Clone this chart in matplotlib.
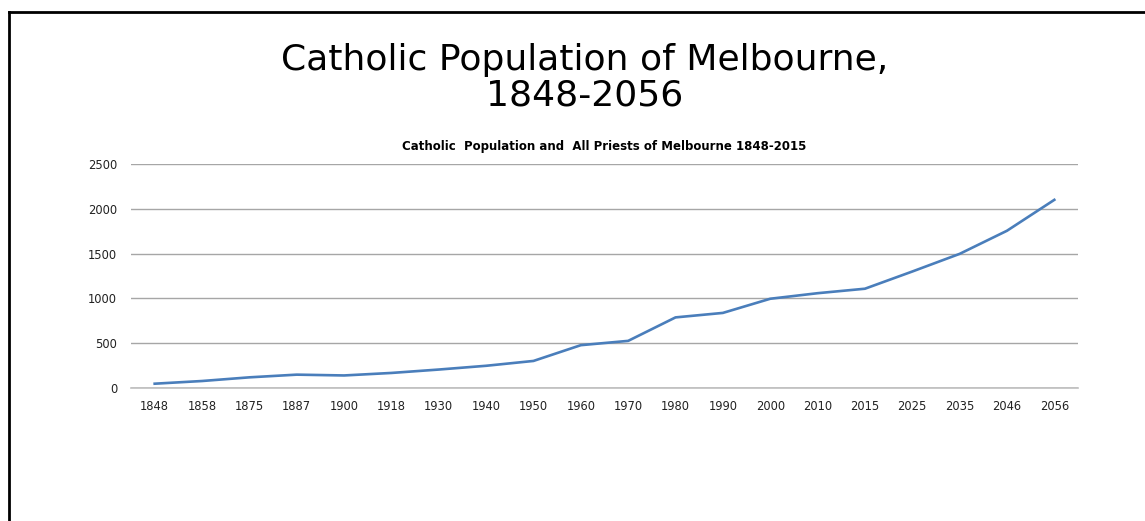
import matplotlib.pyplot as plt
from matplotlib.lines import Line2D

years = ['1848', '1858', '1875', '1887', '1900', '1918', '1930', '1940', '1950', '1960',
         '1970', '1980', '1990', '2000', '2010', '2015', '2025', '2035', '2046', '2056']
population = [48, 78, 119, 149, 140, 168, 206, 248, 302, 478,
              526, 788, 838, 996, 1058, 1108, 1300, 1497, 1755, 2100]
y_ticks = [0, 500, 1000, 1500, 2000, 2500]

plt.rcParams['font.family'] = ['DejaVu Sans']

fig = plt.figure(figsize=(11.45, 5.21), dpi=100)
ax = fig.add_axes([131 / 1145, 1 - 388 / 521, (1078 - 131) / 1145, (388 - 164) / 521])

x = list(range(len(years)))
ax.plot(x, population, color='#4a7ebb', linewidth=1.9, solid_joinstyle='round')

ax.set_xlim(-0.5, len(years) - 0.5)
ax.set_ylim(0, 2500)
ax.set_xticks(x)
ax.set_xticklabels(years)
ax.set_yticks(y_ticks)
ax.tick_params(axis='both', length=0, labelsize=8.3, labelcolor='#222222')
ax.tick_params(axis='y', pad=10)
ax.tick_params(axis='x', pad=9)
ax.grid(axis='y', color='#a6a6a6', linewidth=1)
ax.axhline(0, color='#bfbfbf', linewidth=1.2, clip_on=False, zorder=0)
ax.set_axisbelow(True)
for s in ax.spines.values():
    s.set_visible(False)

ax.set_title('Catholic  Population and  All Priests of Melbourne 1848-2015',
             fontsize=8.5, fontweight='bold', pad=10)

fig.text(0.511, 1 - 60 / 521, 'Catholic Population of Melbourne,', ha='center', va='center',
         fontsize=26)
fig.text(0.511, 1 - 96 / 521, '1848-2056', ha='center', va='center', fontsize=26)

# frame lines
fig.add_artist(Line2D([9 / 1145, 9 / 1145], [0, 1 - 12 / 521], color='black', linewidth=2))
fig.add_artist(Line2D([9 / 1145, 1], [1 - 12 / 521, 1 - 12 / 521], color='black', linewidth=2))

fig.savefig('out.png', dpi=100)
